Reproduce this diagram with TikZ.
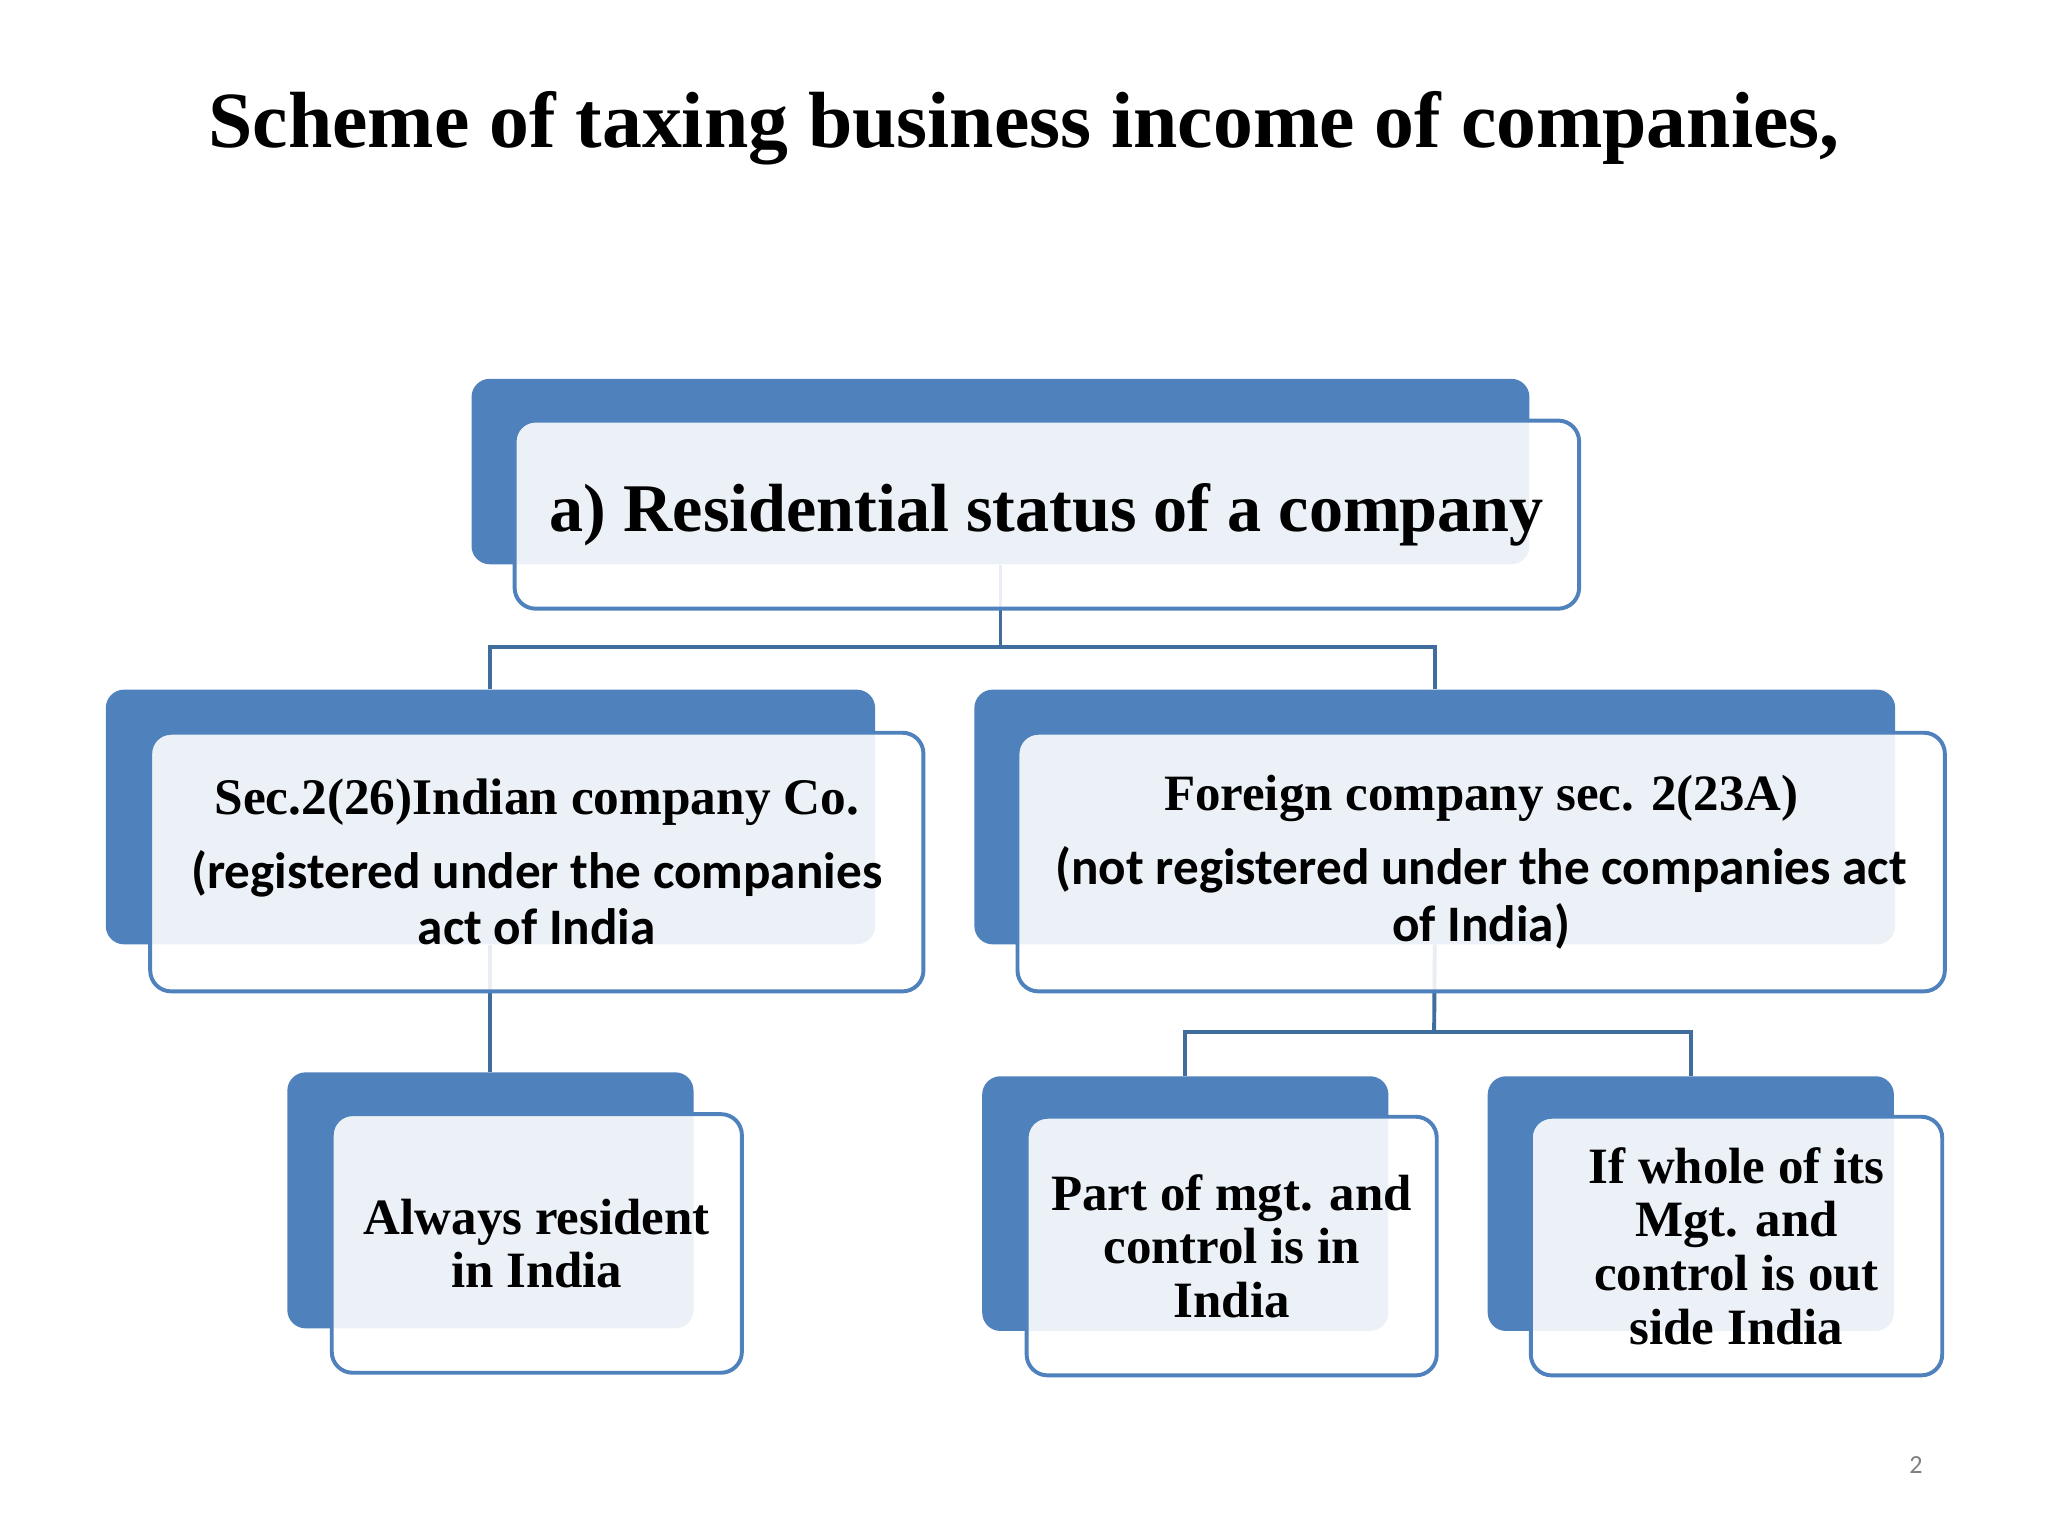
\documentclass[tikz,border=0pt]{standalone}
\usepackage{fontspec}
\setmainfont{Liberation Serif}
\newfontfamily\sanscal{Carlito}
\definecolor{boxblue}{HTML}{4F81BD}
\definecolor{linkblue}{HTML}{3F6D9E}
\begin{document}
\begin{tikzpicture}[x=1pt,y=-1pt,
 backbox/.style={fill=boxblue, draw=none, rounded corners=14pt, inner sep=0pt},
 frontbox/.style={draw=boxblue, line width=3pt, fill=white, fill opacity=0.89, text opacity=1, rounded corners=16pt, inner sep=0pt, align=center},
 link/.style={draw=linkblue, line width=3pt},
 midfont/.style={font=\fontsize{39.2}{43}\selectfont},
 lowfont/.style={font=\fontsize{39}{41}\selectfont\bfseries}]
\useasboundingbox[fill=white] (0,0) rectangle (1568,1176);
\node[anchor=base, font=\fontsize{61}{66}\selectfont\bfseries] (title) at (784,113) {Scheme of taxing business income of companies,};
% back boxes
\node[backbox, minimum width=810pt, minimum height=142pt] (b0) at (766,361) {};
\node[backbox, minimum width=589pt, minimum height=195pt] (b1) at (375.5,625.5) {};
\node[backbox, minimum width=705pt, minimum height=195pt] (b2) at (1098.5,625.5) {};
\node[backbox, minimum width=311pt, minimum height=196pt] (b3) at (375.5,919) {};
\node[backbox, minimum width=311pt, minimum height=195pt] (b4) at (907.5,921.5) {};
\node[backbox, minimum width=311pt, minimum height=195pt] (b5) at (1294.5,921.5) {};
% connectors
\coordinate (h0) at (766,495);
\coordinate (h1) at (1098,790);
\draw[link] (b0.south) -- (h0);
\draw[link] (b1.north) -- (b1.north |- h0) -- (b2.north |- h0) -- (b2.north);
\draw[link] (b1.south) -- (b3.north);
\draw[link] (b2.south) -- (h1);
\draw[link] (b4.north) -- (b4.north |- h1) -- (b5.north |- h1) -- (b5.north);
% front boxes
\node[frontbox, minimum width=815pt, minimum height=144pt, font=\fontsize{52.2}{58}\selectfont\bfseries] (f0) at (801.5,394) {a) Residential status of a company};
\node[frontbox, midfont, minimum width=592pt, minimum height=198pt] (f1) at (411,660)
 {{\fontsize{39.3}{43}\selectfont\bfseries Sec.2(26)Indian company Co.}\\[14pt]{\sanscal\bfseries (registered under the companies}\\{\sanscal\bfseries act of India}};
\node[frontbox, midfont, minimum width=710pt, minimum height=198pt] (f2) at (1134,660)
 {{\fontsize{39}{43}\selectfont\bfseries Foreign company sec. 2(23A)}\\[14pt]{\sanscal\bfseries (not registered under the companies act}\\{\sanscal\bfseries of India)}};
\node[frontbox, lowfont, minimum width=314pt, minimum height=198pt] (f3) at (411,952) {Always resident\\in India};
\node[frontbox, lowfont, minimum width=314pt, minimum height=198pt] (f4) at (943,954) {Part of mgt. and\\control is in\\India};
\node[frontbox, lowfont, minimum width=315pt, minimum height=198pt] (f5) at (1329.5,954) {If whole of its\\Mgt. and\\control is out\\side India};
\node[font=\sanscal\fontsize{20}{24}\selectfont, text=gray] (pn) at (1467,1122) {2};
\end{tikzpicture}
\end{document}
